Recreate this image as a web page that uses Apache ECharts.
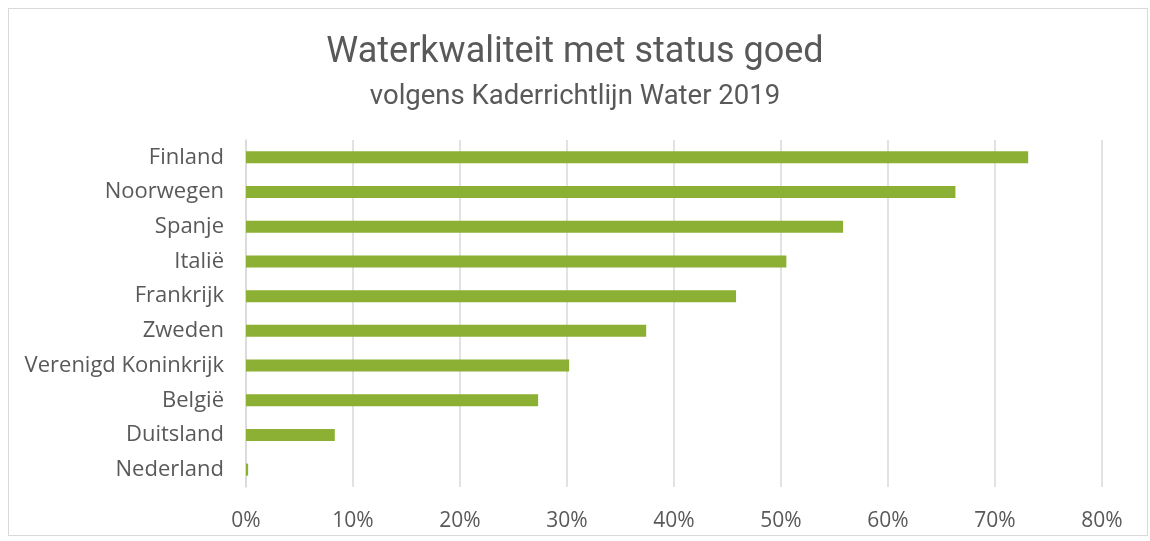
<!DOCTYPE html>
<html>
<head>
<meta charset="utf-8">
<script src="https://cdn.jsdelivr.net/npm/echarts@6/dist/echarts.min.js"></script>
<style>
  html, body { margin: 0; padding: 0; background: #fff; }
  #frame { position: absolute; left: 8px; top: 8px; width: 1140px; height: 528px; border: 1px solid #d9d9d9; box-sizing: border-box; }
  #chart { width: 1150px; height: 541px; position: absolute; left: 0; top: 0; }
</style>
</head>
<body>
<div id="frame"></div>
<div id="chart"></div>
<script>
// countries, bottom to top as the category axis draws them
const countries = ['Nederland', 'Duitsland', 'België', 'Verenigd Koninkrijk', 'Zweden',
  'Frankrijk', 'Italië', 'Spanje', 'Noorwegen', 'Finland']
const goodStatus = [0.2, 8.3, 27.3, 30.2, 37.4, 45.8, 50.5, 55.8, 66.3, 73.1]
const xTicks = [0, 10, 20, 30, 40, 50, 60, 70, 80]

const chart = echarts.init(document.getElementById('chart'))

const option = {
  backgroundColor: 'transparent',
  animation: false,
  title: {
    text: 'Waterkwaliteit met status goed',
    subtext: 'volgens Kaderrichtlijn Water 2019',
    left: 'center',
    top: 30,
    itemGap: 12,
    textStyle: {
      color: '#595959',
      fontSize: 36,
      fontWeight: 'normal',
      fontFamily: 'Roboto',
    },
    subtextStyle: {
      color: '#595959',
      fontSize: 27.5,
      fontFamily: 'Roboto',
    },
  },
  grid: {
    left: 246,
    right: 48,
    top: 140,
    bottom: 54,
  },
  xAxis: {
    type: 'value',
    min: xTicks[0],
    max: xTicks[xTicks.length - 1],
    interval: 10,
    axisLine: { show: false },
    axisTick: { show: false },
    axisLabel: {
      color: '#595959',
      fontSize: 21,
      fontFamily: 'Open Sans',
      margin: 24,
      formatter: (v) => v + '%',
    },
    splitLine: {
      lineStyle: { color: '#d9d9d9', width: 1.5 },
    },
  },
  yAxis: {
    type: 'category',
    data: countries,
    axisLine: { show: true, lineStyle: { color: '#d9d9d9', width: 1.5 } },
    axisTick: { show: false },
    axisLabel: {
      color: '#595959',
      fontSize: 22,
      fontFamily: 'Open Sans',
      margin: 22,
      padding: [4, 0, 0, 0],
    },
  },
  series: [
    {
      type: 'bar',
      data: goodStatus,
      barWidth: 12,
      itemStyle: { color: '#8cb033' },
    },
  ],
}

chart.setOption(option)
</script>
</body>
</html>
